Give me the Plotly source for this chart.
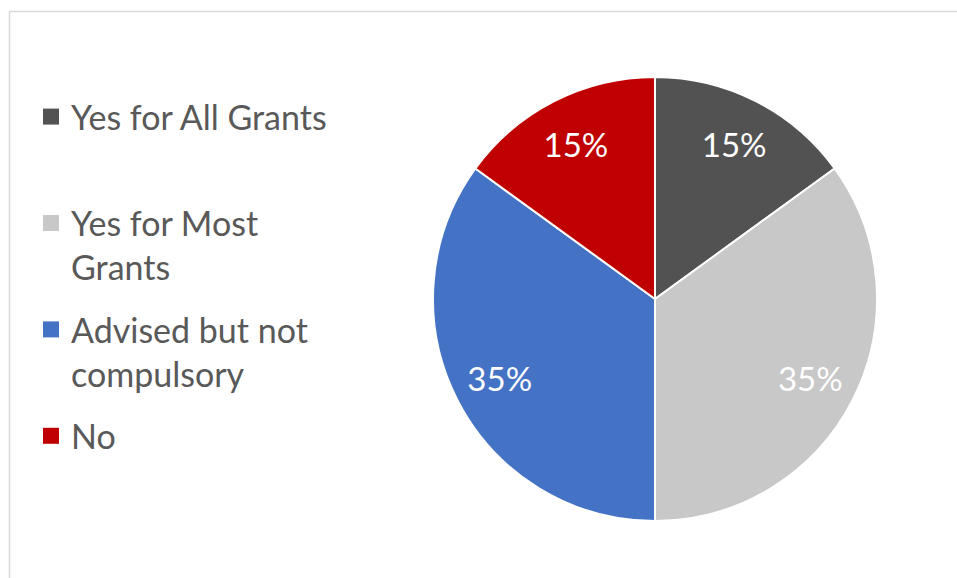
import plotly.graph_objects as go

categories = ["Yes for All Grants", "Yes for Most Grants", "Advised but not compulsory", "No"]
legend_labels = ["Yes for All Grants<br> ", "Yes for Most<br>Grants", "Advised but not<br>compulsory", "No"]
values = [15, 35, 35, 15]
colors = ["#525252", "#C8C8C8", "#4472C4", "#C00000"]

W, H = 957, 578
FONT = "Lato, Open Sans, sans-serif"
dom = dict(x=[433 / W, 877 / W], y=[1 - 521 / H, 1 - 77 / H])

fig = go.Figure()
# solid pie (slices)
fig.add_trace(go.Pie(
    labels=categories, values=values, sort=False, direction="clockwise", rotation=0,
    marker=dict(colors=colors, line=dict(color="white", width=2)),
    textinfo="none", domain=dom, showlegend=False, hoverinfo="label+percent",
))
# transparent ring overlay carrying the percentage labels further out
fig.add_trace(go.Pie(
    labels=categories, values=values, sort=False, direction="clockwise", rotation=0,
    hole=0.57,
    marker=dict(colors=["rgba(0,0,0,0)"] * len(values), line=dict(width=0)),
    texttemplate="%{percent:.0%}", textposition="inside", insidetextorientation="horizontal",
    textfont=dict(family=FONT, size=33, color="white"),
    domain=dom, showlegend=False, hoverinfo="skip",
))
# legend entries
for name, col, cat in zip(legend_labels, colors, categories):
    fig.add_trace(go.Scatter(
        x=[None], y=[None], mode="markers", name=name, legendgroup=cat,
        marker=dict(symbol="square", size=16, color=col), hoverinfo="skip",
    ))

fig.update_layout(
    width=W, height=H, margin=dict(l=0, r=0, t=0, b=0),
    paper_bgcolor="white", plot_bgcolor="white",
    font=dict(family=FONT),
    showlegend=True,
    xaxis=dict(visible=False), yaxis=dict(visible=False),
    legend=dict(x=31 / W, y=1 - 88 / H, xanchor="left", yanchor="top",
                font=dict(size=34, color="#595959"), itemsizing="trace",
                tracegroupgap=15, valign="top", traceorder="grouped",
                bgcolor="rgba(0,0,0,0)"),
    shapes=[dict(type="rect", xref="paper", yref="paper", x0=9.5 / W, x1=1.05, y0=-0.05, y1=1 - 11.5 / H,
                 line=dict(color="#D9D9D9", width=1.5))],
)
fig.write_html("out.html")
